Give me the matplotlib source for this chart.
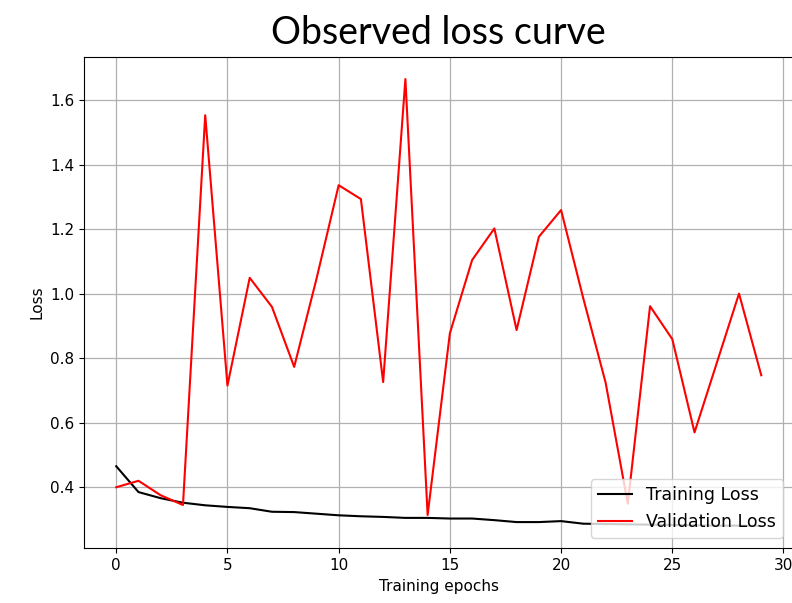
import matplotlib
matplotlib.use("Agg")
import matplotlib.pyplot as plt
import numpy as np

epochs = np.arange(30)

train_loss = [0.465, 0.385, 0.366, 0.352, 0.344, 0.339, 0.335, 0.324, 0.323, 0.318,
              0.313, 0.310, 0.308, 0.305, 0.305, 0.303, 0.303, 0.298, 0.292, 0.292,
              0.295, 0.287, 0.286, 0.285, 0.284, 0.283, 0.282, 0.281, 0.281, 0.280]

val_loss = [0.400, 0.420, 0.375, 0.345, 1.553, 0.715, 1.049, 0.959, 0.773, 1.045,
            1.336, 1.293, 0.726, 1.665, 0.314, 0.877, 1.104, 1.202, 0.887, 1.176,
            1.259, 0.985, 0.725, 0.349, 0.961, 0.859, 0.570, 0.785, 1.000, 0.747]

fig = plt.figure(figsize=(7.92, 6.03), dpi=100)
# axes run slightly past the right edge, as in the cropped original
ax = fig.add_axes([84 / 792, 1 - 548.3 / 603, (793.5 - 84) / 792, (548.3 - 56.7) / 603])

ax.plot(epochs, train_loss, color='black', lw=1.5, label='Training Loss')
ax.plot(epochs, val_loss, color='red', lw=1.5, label='Validation Loss')

ax.grid(True, color='#b0b0b0', lw=0.9)
ax.set_xlabel('Training epochs', fontsize=11)
ax.set_ylabel('Loss', fontsize=11)
ax.tick_params(labelsize=11)
ax.set_title('Observed loss curve', fontsize=27, family='Lato', pad=9)
ax.legend(loc='lower right', fontsize=12.5, borderaxespad=0.6)

fig.savefig('out.png', dpi=100)
